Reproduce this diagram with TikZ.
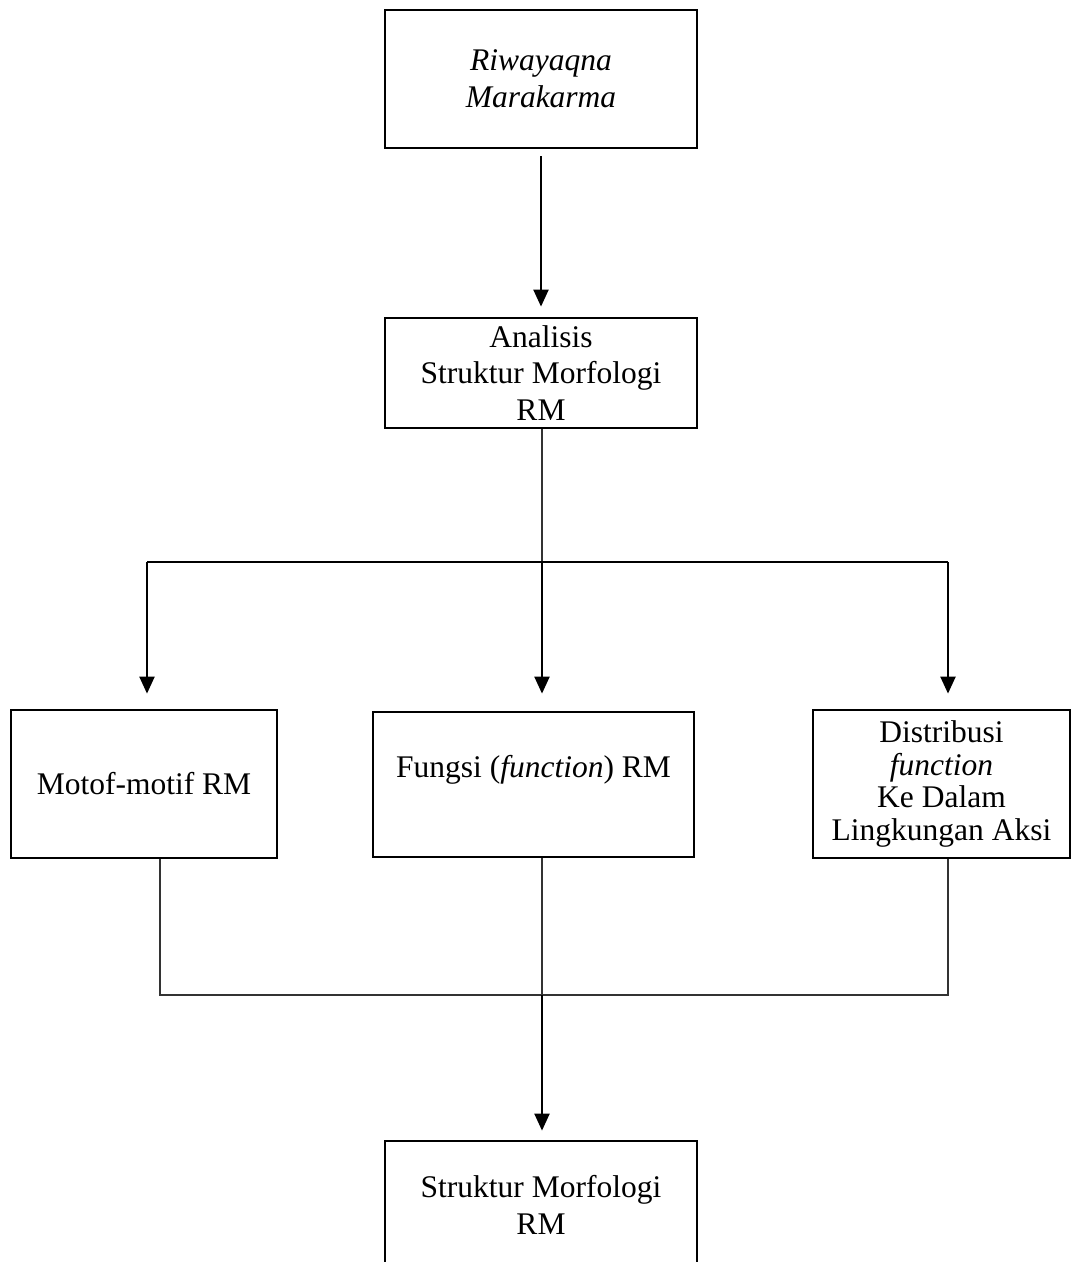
\documentclass[tikz,border=0pt]{standalone}
\usepackage{fontspec}
\setmainfont{Liberation Serif}
\usetikzlibrary{arrows.meta}

\begin{document}
\begin{tikzpicture}[
    x=1pt, y=-1pt,
    font=\fontsize{31.5pt}{36.6pt}\selectfont,
    box/.style={rectangle, draw=black, line width=2.8pt, align=center, inner sep=2pt},
    link/.style={draw=black, line width=2.2pt},
    thinlink/.style={draw=black!80, line width=1.6pt},
    flowarr/.style={-{Triangle[width=15pt,length=17pt]}, draw=black, line width=2.2pt}
  ]
  \useasboundingbox (0,0) rectangle (1073,1262);
  \clip (0,0) rectangle (1073,1262);

  \node[box, minimum width=312pt, minimum height=138pt] (rm) at (541,79) {\textit{Riwayaqna}\\\textit{Marakarma}};
  \node[box, minimum width=312pt, minimum height=110pt] (analisis) at (541,373) {Analisis\\Struktur Morfologi\\RM};
  \node[box, minimum width=266pt, minimum height=148pt] (motif) at (144,784) {Motof-motif RM};
  \node[box, minimum width=321pt, minimum height=145pt, text height=22pt, text depth=37pt] (fungsi) at (533.5,784.5) {Fungsi (\textit{function}) RM};
  \node[box, minimum width=257pt, minimum height=148pt, font=\fontsize{31.5pt}{32.7pt}\selectfont] (distribusi) at (941.5,784) {Distribusi\\\textit{function}\\Ke Dalam\\Lingkungan Aksi};
  \node[box, minimum width=312pt, minimum height=128pt] (hasil) at (541,1205) {Struktur Morfologi\\RM};

  % branch points
  \coordinate (split) at (542,562);
  \coordinate (sl) at (147,562);
  \coordinate (sr) at (948,562);
  \coordinate (join) at (542,995);
  \coordinate (jl) at (160,995);
  \coordinate (jr) at (948,995);

  \draw[flowarr, shorten <=7pt, shorten >=10pt] (rm) -- (analisis);
  \draw[thinlink] (split |- analisis.south) -- (split);
  \draw[link] (sl) -- (sr);
  \draw[flowarr, shorten >=15pt] (sl) -- (sl |- motif.north);
  \draw[flowarr, shorten >=17pt] (split) -- (split |- fungsi.north);
  \draw[flowarr, shorten >=15pt] (sr) -- (sr |- distribusi.north);

  \draw[thinlink] (jl |- motif.south) -- (jl) -- (jr) -- (jr |- distribusi.south);
  \draw[thinlink] (join |- fungsi.south) -- (join);
  \draw[flowarr, shorten >=9pt] (join) -- (join |- hasil.north);
\end{tikzpicture}
\end{document}
